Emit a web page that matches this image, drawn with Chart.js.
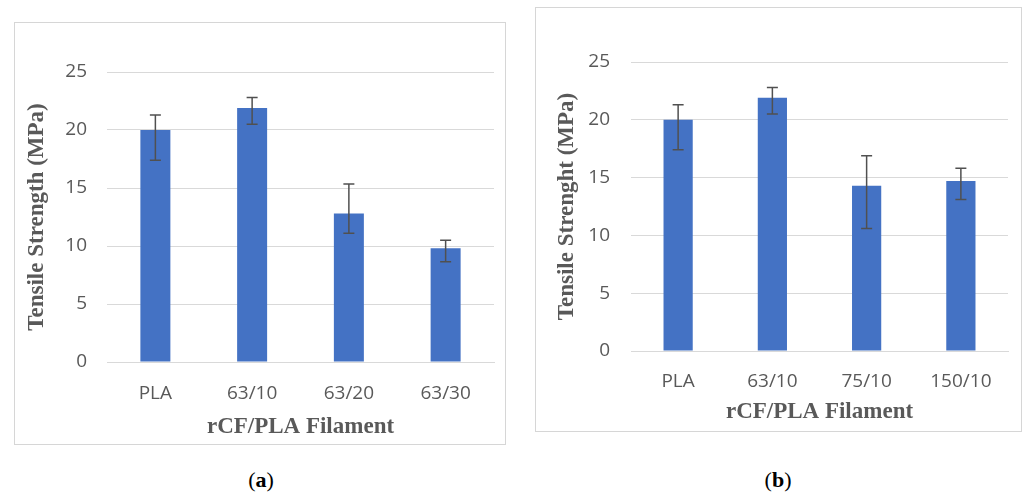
<!DOCTYPE html>
<html>
<head>
<meta charset="utf-8">
<script src="https://cdn.jsdelivr.net/npm/chart.js@4"></script>
<style>
    body{ margin:0; background:#fff; width:1022px; height:496px; position:relative; overflow:hidden; }
    canvas{ position:absolute; }
    .frame{ position:absolute; border:1px solid #d6d6d6; box-sizing:border-box; pointer-events:none; }
    .cap{ position:absolute; font-family:"Liberation Serif", serif; font-size:22px; color:#000; transform:translateX(-50%); }
</style>
</head>
<body>

<canvas id="chartA" width="492" height="422" style="left:14px; top:22px;"></canvas>
<div class="frame" style="left:14px; top:22px; width:492px; height:423px;"></div>

<canvas id="chartB" width="487" height="424" style="left:535px; top:7px;"></canvas>
<div class="frame" style="left:535px; top:7px; width:487px; height:425px;"></div>

<div class="cap" style="left:261px; top:467px;">(<b>a</b>)</div>
<div class="cap" style="left:778px; top:467px;">(<b>b</b>)</div>

<script>

// panel (a)
const catsA = ['PLA', '63/10', '63/20', '63/30'];
const valsA = [20, 21.9, 12.8, 9.8];
const errHiA = [21.3, 22.8, 15.35, 10.5];
const errLoA = [17.4, 20.5, 11.1, 8.65];

// panel (b)
const catsB = ['PLA', '63/10', '75/10', '150/10'];
const valsB = [20, 21.9, 14.3, 14.7];
const errHiB = [21.3, 22.8, 16.9, 15.8];
const errLoB = [17.4, 20.5, 10.6, 13.1];

const yTicks = [0, 5, 10, 15, 20, 25];

const GRAY = "#595959";
const BLUE = "#4472C4";

// error bars drawn from the y scale
const errorBars = {
    id: 'errorBars',
    afterDatasetsDraw(chart, args, opts){
        const ctx = chart.ctx;
        const meta = chart.getDatasetMeta(0);
        const y = chart.scales.y;
        ctx.save();
        ctx.strokeStyle = "#505050";
        ctx.lineWidth = 1.5;
        meta.data.forEach(function(bar, i){
            const x = bar.x;
            const yHi = y.getPixelForValue(opts.hi[i]);
            const yLo = y.getPixelForValue(opts.lo[i]);
            ctx.beginPath();
            ctx.moveTo(x, yHi); ctx.lineTo(x, yLo);
            ctx.moveTo(x - 5.5, yHi); ctx.lineTo(x + 5.5, yHi);
            ctx.moveTo(x - 5.5, yLo); ctx.lineTo(x + 5.5, yLo);
            ctx.stroke();
        });
        ctx.restore();
    }
};

function makeChart(id, cats, vals, hi, lo, yTitle, g){

    new Chart(document.getElementById(id), {
        type: 'bar',
        data: {
            labels: cats,
            datasets: [{
                data: vals,
                backgroundColor: BLUE,
                barPercentage: 0.31,
                categoryPercentage: 1
            }]
        },
        options: {
            responsive: false,
            animation: false,
            layout: { padding: { left: 0, right: g.padRight, top: g.padTop, bottom: 0 } },
            plugins: {
                legend: { display: false },
                tooltip: { enabled: false },
                errorBars: { hi: hi, lo: lo }
            },
            scales: {
                x: {
                    grid: { display: false, drawTicks: false },
                    border: { display: true, color: "#d9d9d9" },
                    ticks: { color: GRAY, padding: g.xTickPad, font: { family: "Open Sans", size: 19 } },
                    title: {
                        display: true,
                        text: "rCF/PLA Filament",
                        color: GRAY,
                        padding: { top: 0, bottom: g.xTitlePad },
                        font: { family: "Liberation Serif", size: 23, weight: 'bold' }
                    },
                    afterFit: function(s){ s.height = g.xHeight; }
                },
                y: {
                    min: 0,
                    max: 25,
                    afterBuildTicks: function(s){ s.ticks = yTicks.map(function(v){ return { value: v }; }); },
                    grid: { color: "#d9d9d9", drawTicks: false },
                    border: { display: false },
                    ticks: { color: GRAY, padding: g.yTickPad, font: { family: "Open Sans", size: 19 } },
                    title: {
                        display: true,
                        text: yTitle,
                        color: GRAY,
                        padding: { top: g.yTitlePad, bottom: 0 },
                        font: { family: "Liberation Serif", size: 23, weight: 'bold' }
                    },
                    afterFit: function(s){ s.width = g.yWidth; }
                }
            }
        },
        plugins: [errorBars]
    });

}

makeChart("chartA", catsA, valsA, errHiA, errLoA, "Tensile Strength (MPa)",
    { padRight: 12, padTop: 50, xHeight: 82, yWidth: 93, xTickPad: 20, yTickPad: 20, xTitlePad: 3, yTitlePad: 9 });

makeChart("chartB", catsB, valsB, errHiB, errLoB, "Tensile Strenght (MPa)",
    { padRight: 14, padTop: 55, xHeight: 80, yWidth: 96, xTickPad: 19, yTickPad: 21, xTitlePad: 5, yTitlePad: 18 });

</script>
</body>
</html>
